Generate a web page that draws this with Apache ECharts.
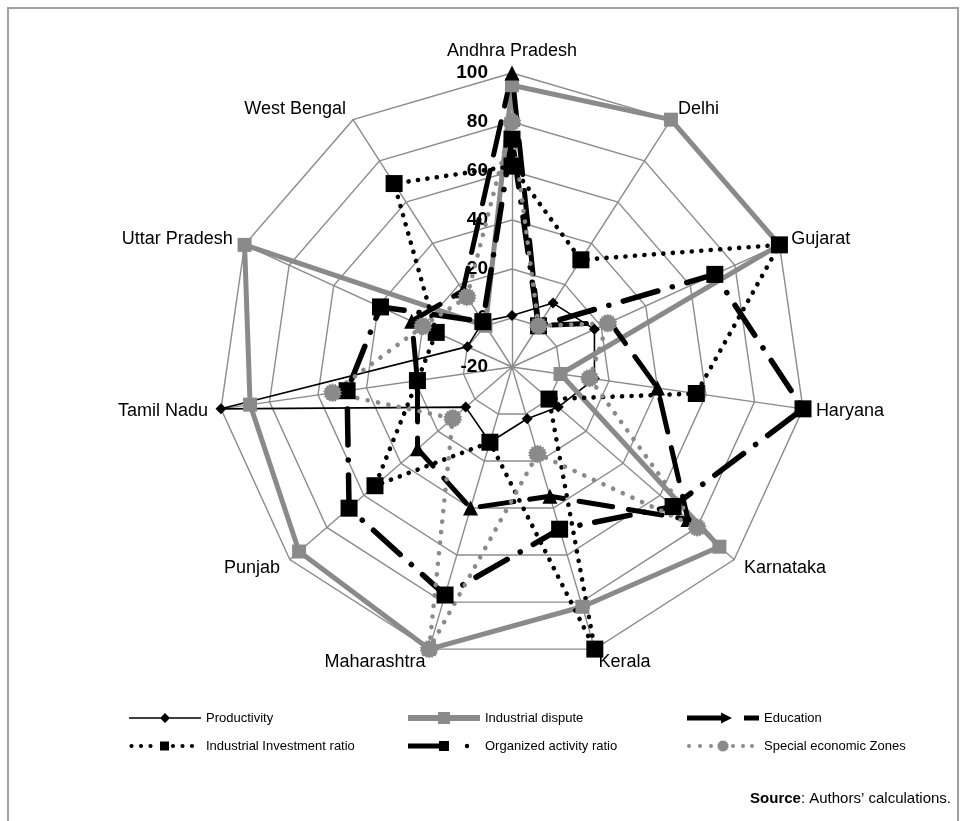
<!DOCTYPE html>
<html>
<head>
<meta charset="utf-8">
<title>Radar of state indicators</title>
<script src="https://cdn.jsdelivr.net/npm/echarts@6/dist/echarts.min.js"></script>
<style>
  html, body { margin: 0; padding: 0; background: #fff; }
  #chart { width: 965px; height: 821px; }
</style>
</head>
<body>
<div id="chart"></div>
<script>
// States, listed clockwise from the top of the web
const states = ['Andhra Pradesh', 'Delhi', 'Gujarat', 'Haryana', 'Karnataka', 'Kerala',
  'Maharashtra', 'Punjab', 'Tamil Nadu', 'Uttar Pradesh', 'West Bengal'];

// Normalised scores per state (same order as states)
const productivity      = [1, 11, 17, 14, 5, 2, 12, 5, 100, 0, 2];
const industrialDispute = [95, 100, 100, 0, 92, 82, 100, 95, 88, 100, 0];
const education         = [100, 0, 24, 40, 75, 35, 40, 31, 19, 25, 17];
const investmentRatio   = [62, 32, 100, 56, 0, 100, 12, 54, 19, 14, 69];
const organizedRatio    = [73, 0, 71, 100, 67, 49, 77, 68, 48, 39, 2];
const sezScore          = [80, 0, 23, 12, 80, 17, 100, 12, 54, 20, 14];

// Radial scale: -20 .. 100 in steps of 20
const axisMin = -20;
const axisMax = 100;
const axisStep = 20;

// ECharts lays radar indicators out counter-clockwise; reorder so the states run clockwise.
const order = [0, 10, 9, 8, 7, 6, 5, 4, 3, 2, 1];
const pick = arr => order.map(i => arr[i]);

const FONT = "'Liberation Sans', Arial, sans-serif";
const GREY = '#8a8a8a';

// ---- symbol / legend icon helpers ----
function burstPath(n, rOut, rIn) {
  let d = '';
  for (let i = 0; i < n * 2; i++) {
    const r = i % 2 ? rIn : rOut;
    const a = Math.PI * i / n;
    d += (i ? 'L' : 'M') + (rOut + r * Math.sin(a)).toFixed(2) + ',' + (rOut - r * Math.cos(a)).toFixed(2);
  }
  return d + 'Z';
}
const rectP = (x, y, w, h) => `M${x},${y}h${w}v${h}h${-w}Z`;
const dotP = (cx, cy, r) => `M${cx - r},${cy}a${r},${r} 0 1,0 ${2 * r},0a${r},${r} 0 1,0 ${-2 * r},0Z`;
const diamondP = (cx, cy, r) => `M${cx},${cy - r}L${cx + r},${cy}L${cx},${cy + r}L${cx - r},${cy}Z`;
const shiftPath = (d, dx, dy) => d.replace(/([ML])([\d.]+),([\d.]+)/g,
  (m, c, x, y) => c + (parseFloat(x) + dx).toFixed(2) + ',' + (parseFloat(y) + dy).toFixed(2));
// anchors pin the icon's bounding box to 72 x 14 so it is drawn at 1:1
const icon = parts => 'path://M0,0L0.01,0L0,0.01Z M72,14L71.99,14L72,13.99Z ' + parts.join(' ');

const burstSymbol = 'path://' + burstPath(18, 10, 8.3);

const legendIcons = {
  'Productivity': icon([rectP(0, 6.2, 72, 1.6), diamondP(36, 7, 5)]),
  'Industrial dispute': icon([rectP(0, 4, 72, 6), rectP(30, 1, 12, 12)]),
  'Education': icon([rectP(0, 4.5, 38, 5), 'M34,1.5L45,7L34,12.5Z', rectP(57, 4.5, 15, 5)]),
  'Industrial Investment ratio': icon([dotP(2.5, 7, 2.1), dotP(12, 7, 2.1), dotP(21.5, 7, 2.1),
    rectP(31, 2.5, 9, 9), dotP(44, 7, 2.1), dotP(53.5, 7, 2.1), dotP(63, 7, 2.1)]),
  'Organized activity ratio': icon([rectP(0, 4.5, 36, 5), rectP(31, 2, 10, 10), dotP(59, 7, 2.2)]),
  'Special economic Zones': icon([dotP(2, 7, 2), dotP(13, 7, 2), dotP(24, 7, 2),
    shiftPath(burstPath(14, 6, 5), 30, 1), dotP(46, 7, 2), dotP(56, 7, 2), dotP(65, 7, 2)])
};

// ---- series styling ----
const seriesDefs = [
  { name: 'Productivity', values: productivity, color: '#000', width: 1.6, type: 'solid', cap: 'butt', symbol: 'diamond', size: 11 },
  { name: 'Industrial dispute', values: industrialDispute, color: GREY, width: 5, type: 'solid', cap: 'butt', symbol: 'rect', size: 14 },
  { name: 'Education', values: education, color: '#000', width: 5, type: [34, 16], cap: 'round', symbol: 'triangle', size: 15 },
  { name: 'Industrial Investment ratio', values: investmentRatio, color: '#000', width: 4.6, type: [0.1, 9.4], cap: 'round', symbol: 'rect', size: 17 },
  { name: 'Organized activity ratio', values: organizedRatio, color: '#000', width: 5.5, type: [36, 15, 0.1, 15], cap: 'round', symbol: 'rect', size: 17 },
  { name: 'Special economic Zones', values: sezScore, color: GREY, width: 4.6, type: [0.1, 10.5], cap: 'round', symbol: burstSymbol, size: 19 }
];

const legendColumns = [
  { left: 124, names: ['Productivity', 'Industrial Investment ratio'] },
  { left: 403, names: ['Industrial dispute', 'Organized activity ratio'] },
  { left: 682, names: ['Education', 'Special economic Zones'] }
];

const chart = echarts.init(document.getElementById('chart'), null, { renderer: 'canvas' });

chart.setOption({
  animation: false,
  backgroundColor: '#fff',
  graphic: [{
    type: 'rect',
    silent: true,
    shape: { x: 8, y: 8, width: 950, height: 840 },
    style: { fill: 'none', stroke: '#a0a0a0', lineWidth: 2 }
  }],
  title: {
    text: '{b|Source}: Authors\u2019 calculations.',
    right: 9,
    top: 786,
    textStyle: {
      fontFamily: FONT, fontSize: 15, fontWeight: 'normal', color: '#000',
      rich: { b: { fontFamily: FONT, fontSize: 15, fontWeight: 'bold', color: '#000' } }
    }
  },
  legend: legendColumns.map(col => ({
    orient: 'vertical',
    left: col.left,
    top: 706,
    itemWidth: 72,
    itemHeight: 14,
    itemGap: 14,
    selectedMode: false,
    itemStyle: { borderWidth: 0 },
    textStyle: { fontFamily: FONT, fontSize: 13, color: '#000' },
    data: col.names.map(n => ({ name: n, icon: legendIcons[n] }))
  })),
  radar: {
    center: [512, 367],
    radius: 294,
    startAngle: 90,
    shape: 'polygon',
    splitNumber: (axisMax - axisMin) / axisStep,
    nameGap: 13,
    axisName: { color: '#000', fontFamily: FONT, fontSize: 18 },
    indicator: order.map((k, i) => ({
      name: states[k],
      min: axisMin,
      max: axisMax,
      axisLabel: { show: i === 0 }
    })),
    axisLine: { lineStyle: { color: '#8c8c8c', width: 1.4 } },
    splitLine: { lineStyle: { color: '#8c8c8c', width: 1.4 } },
    splitArea: { show: false },
    axisTick: { show: false },
    axisLabel: {
      show: false,
      color: '#000',
      fontFamily: FONT,
      fontSize: 19,
      fontWeight: 'bold',
      margin: 24
    }
  },
  series: seriesDefs.map(d => ({
    type: 'radar',
    name: d.name,
    symbol: d.symbol,
    symbolSize: d.size,
    lineStyle: { color: d.color, width: d.width, type: d.type, cap: d.cap, join: 'round', opacity: 1 },
    itemStyle: { color: d.color, borderWidth: 0 },
    areaStyle: null,
    emphasis: { disabled: true },
    data: [{ name: d.name, value: pick(d.values) }]
  }))
});
</script>
</body>
</html>
